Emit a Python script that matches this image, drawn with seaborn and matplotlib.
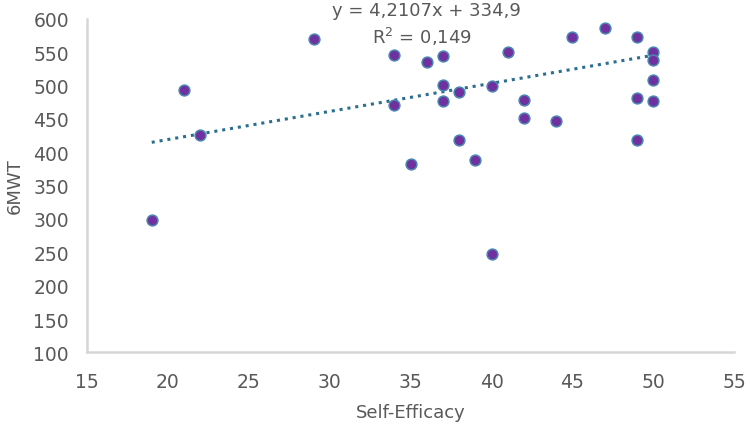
import numpy as np
import pandas as pd
import matplotlib
matplotlib.use("Agg")
import matplotlib.pyplot as plt
import seaborn as sns

# Self-efficacy vs 6MWT
self_efficacy = [29, 21, 22, 19, 40, 34, 36, 37, 41, 45, 47, 49, 50, 50, 50, 50,
                 49, 49, 34, 37, 37, 38, 40, 42, 42, 44, 38, 35, 39]
mwt6 = [570, 493, 426, 298, 248, 546, 536, 544, 550, 573, 586, 573, 550, 538, 509, 477,
        482, 418, 471, 501, 477, 491, 499, 478, 451, 447, 418, 383, 389]

# trend line as given in the chart
slope = 4.2107
intercept = 334.9
eq_text = "y = 4,2107x + 334,9"
r2_text = "R$^2$ = 0,149"

x_ticks = [15, 20, 25, 30, 35, 40, 45, 50, 55]
y_ticks = [100, 150, 200, 250, 300, 350, 400, 450, 500, 550, 600]

df = pd.DataFrame({"Self-Efficacy": self_efficacy, "6MWT": mwt6})

sns.set_style("white")
plt.rcParams["font.family"] = ["DejaVu Sans"]
grey = "#595959"

fig = plt.figure(figsize=(7.5, 4.31), dpi=100)
ax = fig.add_axes([0.116, 0.180, 0.863, 0.774])

# trend line over the data range
x_line = np.array([df["Self-Efficacy"].min(), df["Self-Efficacy"].max()])
line_df = pd.DataFrame({"x": x_line, "y": slope * x_line + intercept})
sns.lineplot(data=line_df, x="x", y="y", ax=ax, color="#2B6F8F",
             linestyle=(0, (1, 1.6)), linewidth=2.2, zorder=2)

sns.scatterplot(data=df, x="Self-Efficacy", y="6MWT", ax=ax, s=60,
                color="#7030A0", edgecolor="#4A86B0", linewidth=1.1, zorder=3)

ax.set_xlim(15, 55)
ax.set_ylim(100, 600)
ax.set_xticks(x_ticks)
ax.set_yticks(y_ticks)
ax.tick_params(axis="y", length=0, labelsize=13.5, labelcolor=grey, pad=13)
ax.tick_params(axis="x", length=0, labelsize=13.5, labelcolor=grey, pad=14)
ax.set_xlabel("Self-Efficacy", fontsize=13, color=grey, labelpad=9)
ax.set_ylabel("6MWT", fontsize=13, color=grey, labelpad=7)

sns.despine(ax=ax)
for side in ["left", "bottom"]:
    ax.spines[side].set_color("#D6D6D6")
    ax.spines[side].set_linewidth(1.8)

fig.text(0.569, 0.975, eq_text, ha="center", va="center", fontsize=13, color=grey)
fig.text(0.563, 0.915, r2_text, ha="center", va="center", fontsize=13, color=grey)

fig.savefig("out.png", dpi=100)
